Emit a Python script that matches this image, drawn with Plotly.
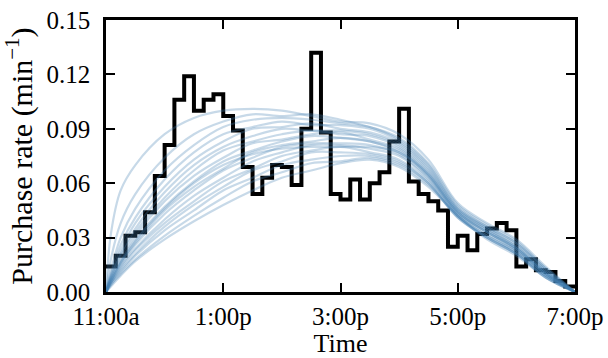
import plotly.graph_objects as go

# ---- data ----
bin_edges_min = list(range(0, 481, 10))  # minutes after 11:00a
observed_rate = [
    0.014, 0.020, 0.031, 0.033, 0.044, 0.064, 0.081, 0.106, 0.119, 0.100,
    0.106, 0.109, 0.097, 0.089, 0.069, 0.054, 0.063, 0.070, 0.069, 0.059,
    0.090, 0.132, 0.088, 0.054, 0.051, 0.062, 0.051, 0.060, 0.066, 0.083,
    0.101, 0.061, 0.054, 0.050, 0.045, 0.025, 0.031, 0.023, 0.032, 0.035,
    0.038, 0.034, 0.014, 0.018, 0.012, 0.011, 0.006, 0.003,
]

sample_times = [0, 5, 15, 30, 60, 90, 120, 150, 180, 210, 240, 270, 300, 330, 360, 390, 420, 450, 480]
posterior_samples = [
    [0, .032, .056, .070, .087, .096, .100, .101, .100, .097, .094, .093, .087, .073, .049, .038, .029, .014, 0],
    [0, .018, .038, .054, .074, .087, .094, .098, .097, .098, .095, .091, .085, .071, .048, .037, .028, .013, 0],
    [0, .012, .030, .046, .067, .081, .091, .095, .096, .095, .093, .091, .084, .070, .047, .036, .027, .013, 0],
    [0, .010, .026, .041, .062, .077, .087, .091, .094, .092, .092, .090, .083, .069, .046, .036, .027, .012, 0],
    [0, .009, .023, .038, .058, .073, .083, .090, .091, .093, .090, .088, .082, .068, .046, .035, .026, .012, 0],
    [0, .008, .021, .035, .055, .070, .080, .086, .090, .089, .089, .087, .081, .067, .045, .035, .025, .011, 0],
    [0, .008, .020, .033, .052, .067, .078, .083, .087, .089, .087, .086, .080, .066, .045, .034, .025, .011, 0],
    [0, .007, .018, .031, .050, .064, .074, .082, .084, .087, .088, .084, .079, .065, .044, .034, .024, .011, 0],
    [0, .007, .017, .029, .047, .061, .072, .078, .083, .086, .085, .083, .078, .064, .044, .033, .024, .010, 0],
    [0, .006, .016, .027, .045, .058, .068, .077, .081, .083, .085, .083, .077, .064, .043, .033, .023, .010, 0],
    [0, .006, .015, .026, .043, .056, .067, .074, .080, .082, .082, .081, .076, .063, .043, .032, .023, .010, 0],
    [0, .005, .014, .024, .040, .053, .063, .072, .077, .081, .081, .079, .075, .062, .042, .031, .022, .009, 0],
    [0, .005, .013, .023, .038, .050, .061, .068, .075, .078, .080, .077, .073, .061, .042, .031, .022, .009, 0],
    [0, .005, .012, .021, .036, .048, .058, .067, .072, .077, .077, .076, .072, .060, .041, .030, .021, .009, 0],
    [0, .004, .011, .020, .034, .045, .056, .063, .070, .073, .075, .075, .071, .060, .041, .030, .021, .008, 0],
    [0, .004, .010, .018, .031, .042, .052, .061, .066, .071, .072, .074, .070, .059, .042, .030, .021, .008, 0],
    [0, .003, .009, .017, .029, .039, .048, .056, .063, .067, .071, .073, .069, .058, .042, .029, .020, .008, 0],
    [0, .006, .016, .028, .046, .060, .070, .076, .079, .080, .080, .080, .077, .065, .044, .033, .024, .010, 0],
]

tick_minutes = [0, 120, 240, 360, 480]
tick_labels = ["11:00a", "1:00p", "3:00p", "5:00p", "7:00p"]
y_ticks = [0.00, 0.03, 0.06, 0.09, 0.12, 0.15]

# ---- figure ----
font_family = "Liberation Serif"
fig = go.Figure()

fig.add_trace(go.Scatter(
    x=bin_edges_min,
    y=observed_rate + [observed_rate[-1]],
    mode="lines",
    line=dict(shape="hv", color="black", width=4),
    showlegend=False,
))

for s in posterior_samples:
    fig.add_trace(go.Scatter(
        x=sample_times, y=s, mode="lines",
        line=dict(shape="spline", smoothing=1.0, color="rgba(70,130,180,0.3)", width=2.2),
        showlegend=False,
    ))

axis_common = dict(
    showline=True, linecolor="black", linewidth=2.5, mirror="allticks",
    ticks="inside", ticklen=9, tickwidth=1.5, tickcolor="black",
    showgrid=False, zeroline=False,
    tickfont=dict(family=font_family, size=25, color="black"),
)

fig.update_xaxes(
    range=[0, 480], tickvals=tick_minutes, ticktext=tick_labels,
    title=dict(text="Time", font=dict(family=font_family, size=26, color="black"), standoff=6),
    ticklabelstandoff=0,
    **axis_common,
)
fig.update_yaxes(
    range=[0, 0.15], tickvals=y_ticks, ticktext=[f"{v:.2f}" for v in y_ticks],
    title=dict(text="Purchase rate (min<sup>\u22121</sup>)", font=dict(family=font_family, size=30, color="black"), standoff=6),
    ticklabelstandoff=8,
    **axis_common,
)

fig.update_layout(
    width=608, height=358,
    margin=dict(l=106, r=33, t=20, b=66, autoexpand=False),
    paper_bgcolor="white", plot_bgcolor="white",
    font=dict(family=font_family, color="black"),
)

fig.write_html("out.html")
